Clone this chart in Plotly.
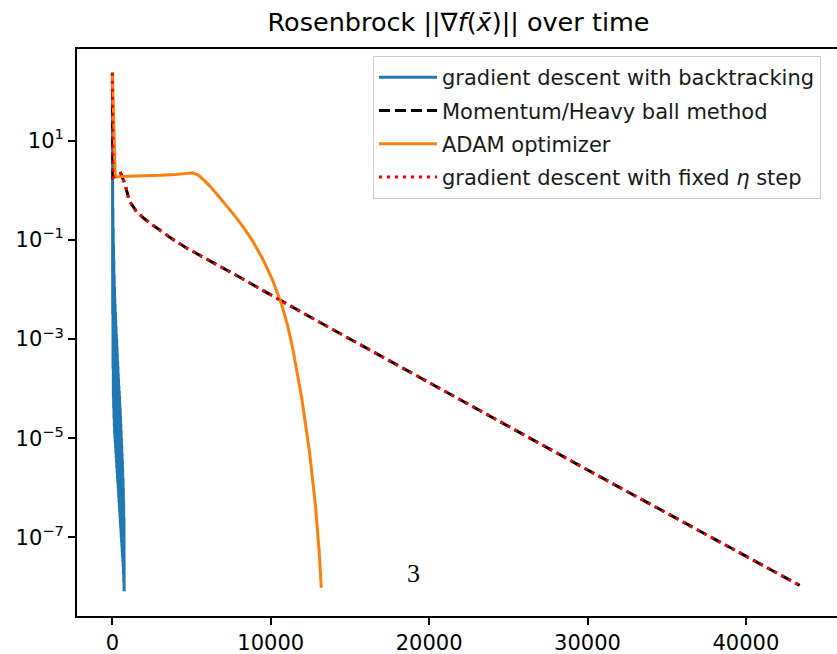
import plotly.graph_objects as go

# ---------------- data ----------------
backtracking_iters = [0, 10, 20, 30, 40, 50, 60, 70, 80, 90, 100, 110, 120, 130, 140, 150,
                      160, 170, 180, 190, 200, 210, 220, 230, 240, 250, 260, 270, 280, 290,
                      300, 310, 320, 330, 340, 350, 360, 370, 380, 390, 400, 410, 420, 430,
                      440, 450, 460, 470, 480, 490, 500, 510, 520, 530, 540, 550, 560, 570,
                      580, 590, 600, 610, 620, 630, 640, 650, 660, 670, 680, 690, 700, 710,
                      720, 730, 740]
backtracking_vals = [234, 1.82, 3.16e-3, 0.447, 2.51e-4, 0.178, 6.31e-5, 0.0794, 3.98e-5,
                     0.0398, 2.51e-5, 0.0200, 1.78e-5, 0.0112, 1.26e-5, 7.08e-3, 1.0e-5,
                     5.01e-3, 7.94e-6, 3.55e-3, 6.31e-6, 2.51e-3, 5.01e-6, 1.78e-3, 3.98e-6,
                     1.26e-3, 3.16e-6, 1.0e-3, 2.51e-6, 7.08e-4, 2.0e-6, 5.01e-4, 1.58e-6,
                     3.55e-4, 1.26e-6, 2.82e-4, 1.0e-6, 2.0e-4, 7.94e-7, 1.58e-4, 6.31e-7,
                     1.12e-4, 5.01e-7, 8.91e-5, 3.98e-7, 7.08e-5, 3.16e-7, 5.01e-5, 2.51e-7,
                     3.98e-5, 2.0e-7, 2.82e-5, 1.58e-7, 2.0e-5, 1.26e-7, 1.41e-5, 1.0e-7,
                     1.0e-5, 7.94e-8, 7.08e-6, 6.31e-8, 5.01e-6, 5.01e-8, 3.55e-6, 3.98e-8,
                     2.51e-6, 3.16e-8, 1.58e-6, 2.51e-8, 1.0e-6, 1.78e-8, 5.62e-7, 1.26e-8,
                     2.51e-7, 8.13e-9]

momentum_iters = [0, 30, 250, 530, 800, 1060, 1500, 2000, 2530, 3577, 4600, 5680, 6700, 7790,
                  8620, 9890, 12000, 15000, 20000, 25000, 30000, 35000, 40000, 43400]
momentum_vals = [234, 1.82, 1.95, 2.19, 1.32, 0.617, 0.380, 0.269, 0.200, 0.115, 0.0708,
                 0.0457, 0.0302, 0.0195, 0.0138, 8.13e-3, 3.39e-3, 1.0e-3, 1.32e-4, 1.74e-5,
                 2.29e-6, 3.09e-7, 4.17e-8, 1.07e-8]

adam_iters = [0, 180, 1000, 2000, 3000, 4000, 4700, 5050, 5400, 5700, 6200, 6730, 7250, 7790,
              8300, 8830, 9514, 10100, 10676, 11050, 11377, 11958, 12451, 12824, 13058, 13190]
adam_vals = [234, 1.86, 1.91, 1.95, 2.00, 2.09, 2.19, 2.24, 2.04, 1.70, 1.17, 0.741, 0.468,
             0.288, 0.174, 0.0977, 0.0398, 0.0158, 5.08e-3, 1.94e-3, 6.71e-4, 6.40e-5,
             5.08e-6, 4.32e-7, 5.04e-8, 9.6e-9]

fixed_iters = [0, 30, 250, 530, 800, 1060, 1500, 2000, 2530, 3577, 4600, 5680, 6700, 7790,
               8620, 9890, 12000, 15000, 20000, 25000, 30000, 35000, 40000, 43400]
fixed_vals = [234, 1.82, 1.95, 2.19, 1.32, 0.617, 0.380, 0.269, 0.200, 0.115, 0.0708,
              0.0457, 0.0302, 0.0195, 0.0138, 8.13e-3, 3.39e-3, 1.0e-3, 1.32e-4, 1.74e-5,
              2.29e-6, 3.09e-7, 4.17e-8, 1.07e-8]

series_names = ["gradient descent with backtracking",
                "Momentum/Heavy ball method",
                "ADAM optimizer",
                "gradient descent with fixed <i>η</i> step"]

x_tick_vals = [0, 10000, 20000, 30000, 40000]
x_tick_text = ["0", "10000", "20000", "30000", "40000"]
y_tick_vals = [1e1, 1e-1, 1e-3, 1e-5, 1e-7]
y_tick_text = ["10<sup>1</sup>", "10<sup>−1</sup>", "10<sup>−3</sup>",
               "10<sup>−5</sup>", "10<sup>−7</sup>"]

title_text = "Rosenbrock ||∇<i>f</i>(<i>x̄</i>)|| over time"
stray_text = "3"

# ---------------- figure ----------------
FONT = "DejaVu Sans"
fig = go.Figure()
fig.add_trace(go.Scatter(x=backtracking_iters, y=backtracking_vals, mode="lines",
                         name=series_names[0], legendgroup="a",
                         line=dict(color="#1f77b4", width=3, simplify=False)))
fig.add_trace(go.Scatter(x=momentum_iters, y=momentum_vals, mode="lines",
                         name=series_names[1], legendgroup="b",
                         line=dict(color="black", width=3, dash="11px,5px", simplify=False)))
fig.add_trace(go.Scatter(x=adam_iters, y=adam_vals, mode="lines",
                         name=series_names[2], legendgroup="c",
                         line=dict(color="#ff7f0e", width=3, simplify=False)))
fig.add_trace(go.Scatter(x=fixed_iters, y=fixed_vals, mode="lines",
                         name=series_names[3], legendgroup="d",
                         line=dict(color="red", width=3, dash="3px,5px", simplify=False)))

fig.add_annotation(x=19000, y=-7.73, xref="x", yref="y", text=stray_text, showarrow=False,
                   font=dict(family="Liberation Serif", size=26, color="black"),
                   xanchor="center", yanchor="middle")

fig.update_layout(
    width=837, height=654,
    margin=dict(l=77, r=0, t=49, b=38),
    paper_bgcolor="white", plot_bgcolor="white",
    font=dict(family=FONT, size=21, color="black"),
    title=dict(text=title_text, x=0.502, xref="paper", xanchor="center",
               y=1 - 22 / 654, yref="container", yanchor="middle",
               font=dict(family=FONT, size=25.5, color="black")),
    showlegend=True,
    legend=dict(x=(373 - 77) / 760, y=(616 - 56) / 567, xanchor="left", yanchor="top",
                bgcolor="rgba(255,255,255,0.8)", bordercolor="#cccccc", borderwidth=1,
                font=dict(family=FONT, size=21, color="#1a1a1a"),
                itemwidth=58,
                traceorder="grouped", tracegroupgap=3),
)
fig.update_xaxes(range=[-2236, 45755], showgrid=False, zeroline=False,
                 showline=True, linecolor="black", linewidth=1.7, mirror=True,
                 ticks="outside", ticklen=7, tickwidth=1.7, tickcolor="black",
                 tickvals=x_tick_vals, ticktext=x_tick_text,
                 tickfont=dict(family=FONT, size=21, color="black"))
fig.update_yaxes(type="log", range=[-8.587, 2.849], showgrid=False, zeroline=False,
                 showline=True, linecolor="black", linewidth=1.7, mirror=False,
                 ticks="outside", ticklen=7, tickwidth=1.7, tickcolor="black",
                 tickvals=y_tick_vals, ticktext=y_tick_text,
                 tickfont=dict(family=FONT, size=21, color="black"))

fig.write_html("out.html", config={"displayModeBar": False},
               post_script="document.body.style.margin='0';"
                           "document.body.style.overflow='hidden';")
